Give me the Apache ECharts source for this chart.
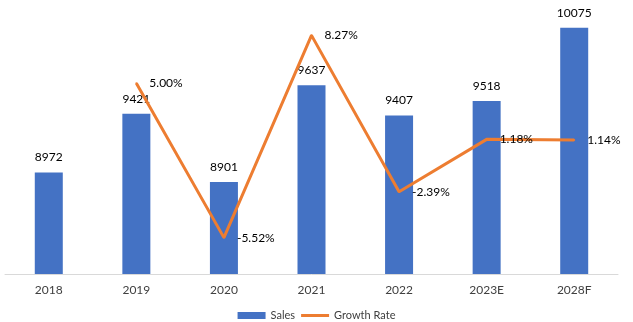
<!DOCTYPE html>
<html>
<head>
<meta charset="utf-8">
<script src="https://cdn.jsdelivr.net/npm/echarts@6/dist/echarts.min.js"></script>
<style>
  html, body { margin: 0; padding: 0; background: #fff; }
  #chart { width: 633px; height: 322px; }
</style>
</head>
<body>
<div id="chart"></div>
<script>
// Yearly sales with year-over-year growth rate
const years = ['2018', '2019', '2020', '2021', '2022', '2023E', '2028F'];
const sales = [8972, 9421, 8901, 9637, 9407, 9518, 10075];
const growthRate = [null, 5.00, -5.52, 8.27, -2.39, 1.18, 1.14];

const FONT = 'Lato';
const chart = echarts.init(document.getElementById('chart'));
chart.setOption({
  animation: false,
  textStyle: { fontFamily: FONT },
  grid: { left: 5, right: 15, top: 10, bottom: 48 },
  legend: {
    bottom: -4,
    left: 'center',
    itemGap: 6,
    itemWidth: 28,
    itemHeight: 7,
    textStyle: { fontSize: 11, color: '#404040', fontFamily: FONT },
    data: [
      { name: 'Sales', icon: 'rect' },
      { name: 'Growth Rate', icon: 'path://M0,0 L28,0 L28,3 L0,3 Z' }
    ]
  },
  xAxis: {
    type: 'category',
    data: years,
    axisLine: { onZero: false, lineStyle: { color: '#D9D9D9', width: 1 } },
    axisTick: { show: false },
    axisLabel: { color: '#404040', fontSize: 12, margin: 10, fontFamily: FONT }
  },
  yAxis: [
    { type: 'value', min: 8200, max: 10210, show: false, splitLine: { show: false } },
    { type: 'value', min: -8, max: 10, show: false, splitLine: { show: false } }
  ],
  series: [
    {
      name: 'Sales',
      type: 'bar',
      data: sales,
      barWidth: 28,
      itemStyle: { color: '#4472C4' },
      label: {
        show: true,
        position: 'top',
        distance: 9,
        color: '#000',
        fontSize: 12,
        fontFamily: FONT
      }
    },
    {
      name: 'Growth Rate',
      type: 'line',
      yAxisIndex: 1,
      data: growthRate,
      connectNulls: false,
      symbol: 'circle',
      symbolSize: 2,
      showSymbol: true,
      lineStyle: { color: '#ED7D31', width: 3 },
      itemStyle: { color: '#ED7D31' },
      label: {
        show: true,
        position: 'right',
        distance: 12,
        color: '#000',
        fontSize: 12,
        fontFamily: FONT,
        formatter: p => (p.value == null ? '' : Number(p.value).toFixed(2) + '%')
      }
    }
  ]
});
</script>
</body>
</html>
